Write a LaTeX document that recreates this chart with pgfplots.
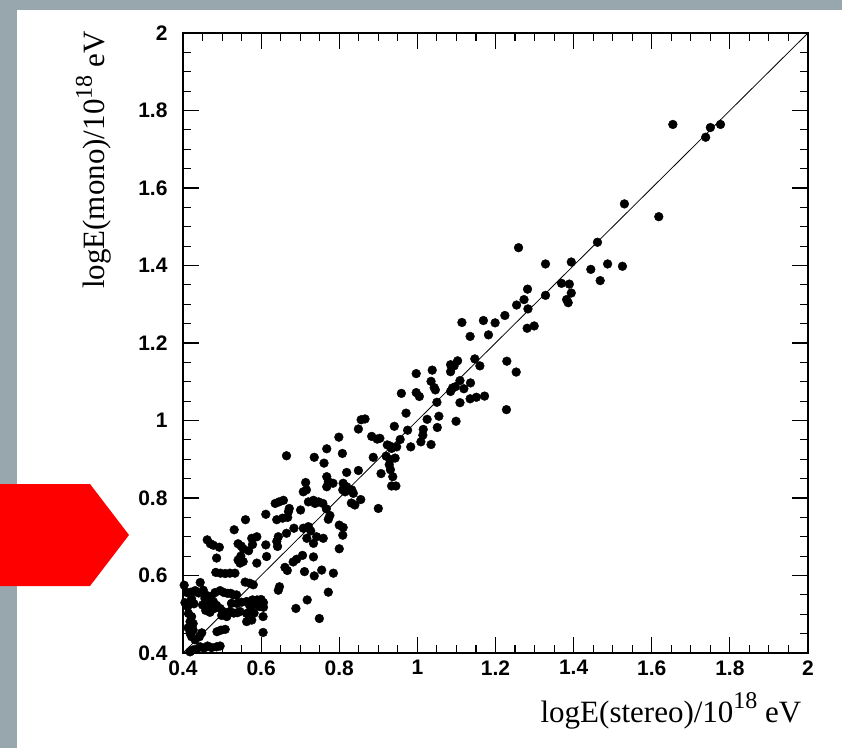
\documentclass[border=0pt]{standalone}
\usepackage{pgfplots}
\pgfplotsset{compat=1.18}
\usepackage{fontspec}
\setmainfont{Liberation Serif}
\newfontfamily\helv{Liberation Sans}
\definecolor{bggray}{RGB}{152,167,174}
\definecolor{arrowred}{RGB}{255,0,0}
\pgfplotstableread{
x y
1.654 1.764
1.750 1.756
1.776 1.764
1.738 1.731
1.530 1.559
1.618 1.526
1.461 1.460
1.259 1.446
1.328 1.404
1.394 1.409
1.444 1.390
1.487 1.404
1.525 1.398
1.468 1.361
1.369 1.354
1.389 1.352
1.394 1.329
1.382 1.312
1.386 1.304
1.282 1.339
1.328 1.323
1.273 1.312
1.254 1.298
1.283 1.288
1.224 1.271
1.199 1.252
1.169 1.258
1.114 1.253
1.135 1.217
1.182 1.221
1.281 1.238
1.299 1.244
1.147 1.159
1.160 1.141
1.229 1.153
1.253 1.125
1.228 1.028
1.103 1.154
1.085 1.144
1.094 1.141
1.085 1.126
1.038 1.130
0.997 1.121
1.035 1.101
1.043 1.085
1.046 1.079
1.109 1.103
1.136 1.097
1.090 1.084
1.097 1.087
1.119 1.082
1.085 1.075
0.959 1.070
0.997 1.072
1.005 1.062
1.050 1.047
1.109 1.046
1.135 1.056
1.151 1.060
1.172 1.063
0.971 1.019
1.025 1.003
1.055 1.011
1.099 0.998
0.941 0.985
0.975 0.975
1.015 0.977
1.051 0.982
0.904 0.954
0.956 0.951
1.014 0.962
1.009 0.945
1.035 0.938
0.930 0.934
0.983 0.932
0.856 1.002
0.866 1.004
0.849 0.978
0.799 0.957
0.883 0.959
0.897 0.952
0.923 0.937
0.934 0.928
0.947 0.932
0.768 0.927
0.736 0.905
0.808 0.915
0.761 0.890
0.887 0.905
0.920 0.908
0.930 0.899
0.943 0.903
0.928 0.886
0.819 0.866
0.849 0.871
0.768 0.855
0.772 0.842
0.907 0.863
0.931 0.873
0.937 0.855
0.714 0.840
0.784 0.838
0.810 0.838
0.819 0.829
0.934 0.831
0.945 0.831
0.768 0.829
0.665 0.909
0.809 0.821
0.832 0.821
0.836 0.812
0.815 0.816
0.855 0.796
0.831 0.787
0.840 0.782
0.900 0.773
0.800 0.730
0.810 0.724
0.809 0.704
0.800 0.669
0.767 0.772
0.776 0.755
0.772 0.745
0.721 0.790
0.734 0.794
0.738 0.786
0.747 0.790
0.758 0.786
0.716 0.821
0.708 0.816
0.701 0.769
0.646 0.790
0.657 0.794
0.636 0.786
0.672 0.773
0.670 0.765
0.612 0.758
0.640 0.744
0.655 0.748
0.668 0.750
0.560 0.744
0.531 0.718
0.665 0.709
0.684 0.722
0.708 0.722
0.721 0.726
0.727 0.715
0.717 0.696
0.742 0.700
0.759 0.696
0.734 0.683
0.644 0.700
0.640 0.688
0.642 0.675
0.589 0.700
0.576 0.696
0.612 0.679
0.541 0.682
0.549 0.676
0.554 0.669
0.462 0.692
0.470 0.682
0.478 0.678
0.493 0.673
0.578 0.680
0.486 0.645
0.541 0.640
0.546 0.632
0.554 0.636
0.589 0.632
0.614 0.649
0.568 0.664
0.548 0.650
0.682 0.635
0.691 0.642
0.706 0.652
0.661 0.621
0.667 0.613
0.734 0.648
0.711 0.610
0.736 0.599
0.755 0.614
0.785 0.606
0.718 0.537
0.689 0.515
0.772 0.557
0.749 0.489
0.647 0.571
0.644 0.562
0.559 0.583
0.571 0.580
0.580 0.576
0.444 0.582
0.484 0.608
0.496 0.606
0.508 0.605
0.520 0.606
0.533 0.606
0.410 0.556
0.420 0.557
0.431 0.561
0.440 0.555
0.452 0.562
0.462 0.548
0.472 0.545
0.482 0.556
0.495 0.561
0.505 0.556
0.514 0.554
0.522 0.554
0.529 0.550
0.537 0.550
0.422 0.540
0.428 0.527
0.456 0.541
0.469 0.528
0.478 0.532
0.524 0.528
0.538 0.528
0.550 0.531
0.563 0.533
0.570 0.524
0.578 0.537
0.590 0.537
0.600 0.538
0.606 0.530
0.606 0.518
0.596 0.520
0.450 0.524
0.458 0.510
0.469 0.505
0.478 0.514
0.486 0.523
0.495 0.515
0.503 0.507
0.499 0.497
0.512 0.494
0.520 0.507
0.530 0.503
0.539 0.504
0.546 0.507
0.563 0.502
0.573 0.509
0.582 0.503
0.589 0.524
0.605 0.494
0.563 0.481
0.576 0.485
0.605 0.453
0.487 0.455
0.497 0.459
0.508 0.461
0.444 0.416
0.454 0.413
0.463 0.418
0.473 0.414
0.486 0.416
0.495 0.418
0.412 0.520
0.414 0.502
0.422 0.494
0.418 0.481
0.426 0.476
0.413 0.465
0.426 0.459
0.418 0.451
0.422 0.442
0.431 0.434
0.426 0.408
0.418 0.403
0.435 0.410
0.448 0.452
0.442 0.442
0.405 0.530
0.403 0.575
}\datatable
\begin{document}
\begin{tikzpicture}[x=1pt,y=1pt]
\useasboundingbox (0,0) rectangle (842,748);
\fill[white] (0,0) rectangle (842,748);
\fill[bggray] (0,0) rectangle (17,748);
\fill[bggray] (0,738) rectangle (842,748);
\fill[arrowred] (0,264) -- (90,264) -- (129,213) -- (90,162) -- (0,162) -- cycle;
\begin{axis}[
  scale only axis,
  width=625pt, height=620pt,
  at={(183pt,95pt)}, anchor=south west,
  xmin=0.4, xmax=2, ymin=0.4, ymax=2,
  xtick={0.4,0.6,...,2.01}, ytick={0.4,0.6,...,2.01},
  minor tick num=3,
  tick align=inside,
  major tick length=16pt, minor tick length=8pt,
  axis line style={line width=1.3pt},
  every tick/.style={black, line width=1.1pt},
  /pgf/number format/assume math mode=true,
  ticklabel style={font=\helv\bfseries\fontsize{21}{21}\selectfont},
  xticklabel style={yshift=-4pt},
  yticklabel style={xshift=-12pt},
  xlabel={logE(stereo)/10\raisebox{0.42em}{\fontsize{24}{24}\selectfont 18} eV},
  ylabel={logE(mono)/10\raisebox{0.42em}{\fontsize{24}{24}\selectfont 18} eV},
  label style={font=\fontsize{31}{31}\selectfont},
  xlabel style={at={(axis description cs:0.995,-0.1113)}, anchor=base east},
  ylabel style={at={(axis description cs:-0.1248,1.008)}, anchor=base east},
  clip=true,
]
\addplot[only marks, mark=*, mark size=4.4pt, black] table[x=x,y=y] {\datatable};
\addplot[black, line width=0.8pt] coordinates {(0.4,0.4) (2,2)};
\end{axis}
\end{tikzpicture}
\end{document}
